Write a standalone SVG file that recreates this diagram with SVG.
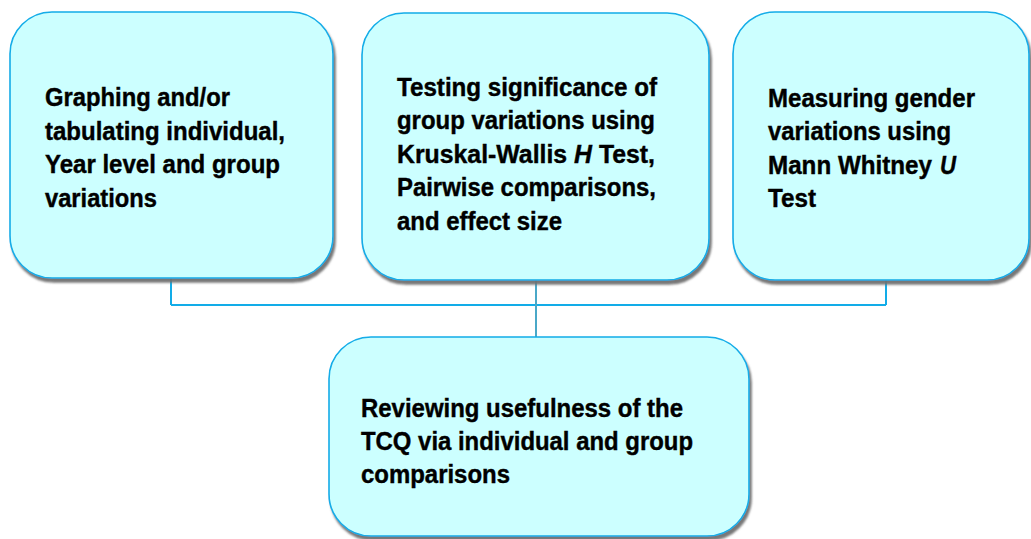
<svg xmlns="http://www.w3.org/2000/svg" width="1031" height="539" viewBox="0 0 1031 539">
  <style>
    .box { fill: #ccffff; stroke: #12ace8; stroke-width: 1.6; }
    .lbl { font-family: "Liberation Sans Narrow", "Liberation Sans", Arial, sans-serif; font-weight: bold; font-size: 25px; fill: #000; stroke: #000; stroke-width: 0.4; }
    .it { font-style: italic; }
    .link { fill: none; stroke: #12ace8; stroke-width: 2; }
    .stem { fill: none; stroke: #4aa8c8; stroke-width: 2; }
  </style>
  <defs>
    <filter id="shadow" x="-10%" y="-10%" width="130%" height="130%">
      <feDropShadow dx="2" dy="4" stdDeviation="1.2" flood-color="#707070" flood-opacity="0.95"/>
    </filter>
  </defs>

  <!-- connectors -->
  <g id="connectors">
    <path class="link" d="M171 278 V305 M886 280 V305 M171 305 H886"/>
    <path class="stem" d="M536 280 V337"/>
  </g>

  <g id="node-graphing">
    <rect class="box" x="10" y="12" width="323" height="266" rx="42" filter="url(#shadow)"/>
    <text class="lbl" x="45" y="106" textLength="185" lengthAdjust="spacingAndGlyphs">Graphing and/or</text>
    <text class="lbl" x="45" y="140" textLength="240" lengthAdjust="spacingAndGlyphs">tabulating individual,</text>
    <text class="lbl" x="45" y="173" textLength="235" lengthAdjust="spacingAndGlyphs">Year level and group</text>
    <text class="lbl" x="45" y="207" textLength="112" lengthAdjust="spacingAndGlyphs">variations</text>
  </g>

  <g id="node-testing">
    <rect class="box" x="362" y="13" width="347" height="267" rx="42" filter="url(#shadow)"/>
    <text class="lbl" x="397" y="96" textLength="260" lengthAdjust="spacingAndGlyphs">Testing significance of</text>
    <text class="lbl" x="397" y="129" textLength="258" lengthAdjust="spacingAndGlyphs">group variations using</text>
    <text class="lbl" x="397" y="163" textLength="258" lengthAdjust="spacingAndGlyphs">Kruskal-Wallis <tspan class="it">H</tspan> Test,</text>
    <text class="lbl" x="397" y="196" textLength="259" lengthAdjust="spacingAndGlyphs">Pairwise comparisons,</text>
    <text class="lbl" x="397" y="230" textLength="165" lengthAdjust="spacingAndGlyphs">and effect size</text>
  </g>

  <g id="node-gender">
    <rect class="box" x="733" y="12" width="296" height="268" rx="42" filter="url(#shadow)"/>
    <text class="lbl" x="768" y="107" textLength="207" lengthAdjust="spacingAndGlyphs">Measuring gender</text>
    <text class="lbl" x="768" y="140" textLength="183" lengthAdjust="spacingAndGlyphs">variations using</text>
    <text class="lbl" x="768" y="174" textLength="164" lengthAdjust="spacingAndGlyphs">Mann Whitney</text>
    <text class="lbl it" x="940" y="174" textLength="16" lengthAdjust="spacingAndGlyphs">U</text>
    <text class="lbl" x="768" y="207" textLength="48" lengthAdjust="spacingAndGlyphs">Test</text>
  </g>

  <g id="node-review">
    <rect class="box" x="329" y="337" width="420" height="199" rx="42" filter="url(#shadow)"/>
    <text class="lbl" x="361" y="417" textLength="322" lengthAdjust="spacingAndGlyphs">Reviewing usefulness of the</text>
    <text class="lbl" x="361" y="450" textLength="332" lengthAdjust="spacingAndGlyphs">TCQ via individual and group</text>
    <text class="lbl" x="361" y="483" textLength="149" lengthAdjust="spacingAndGlyphs">comparisons</text>
  </g>
</svg>
